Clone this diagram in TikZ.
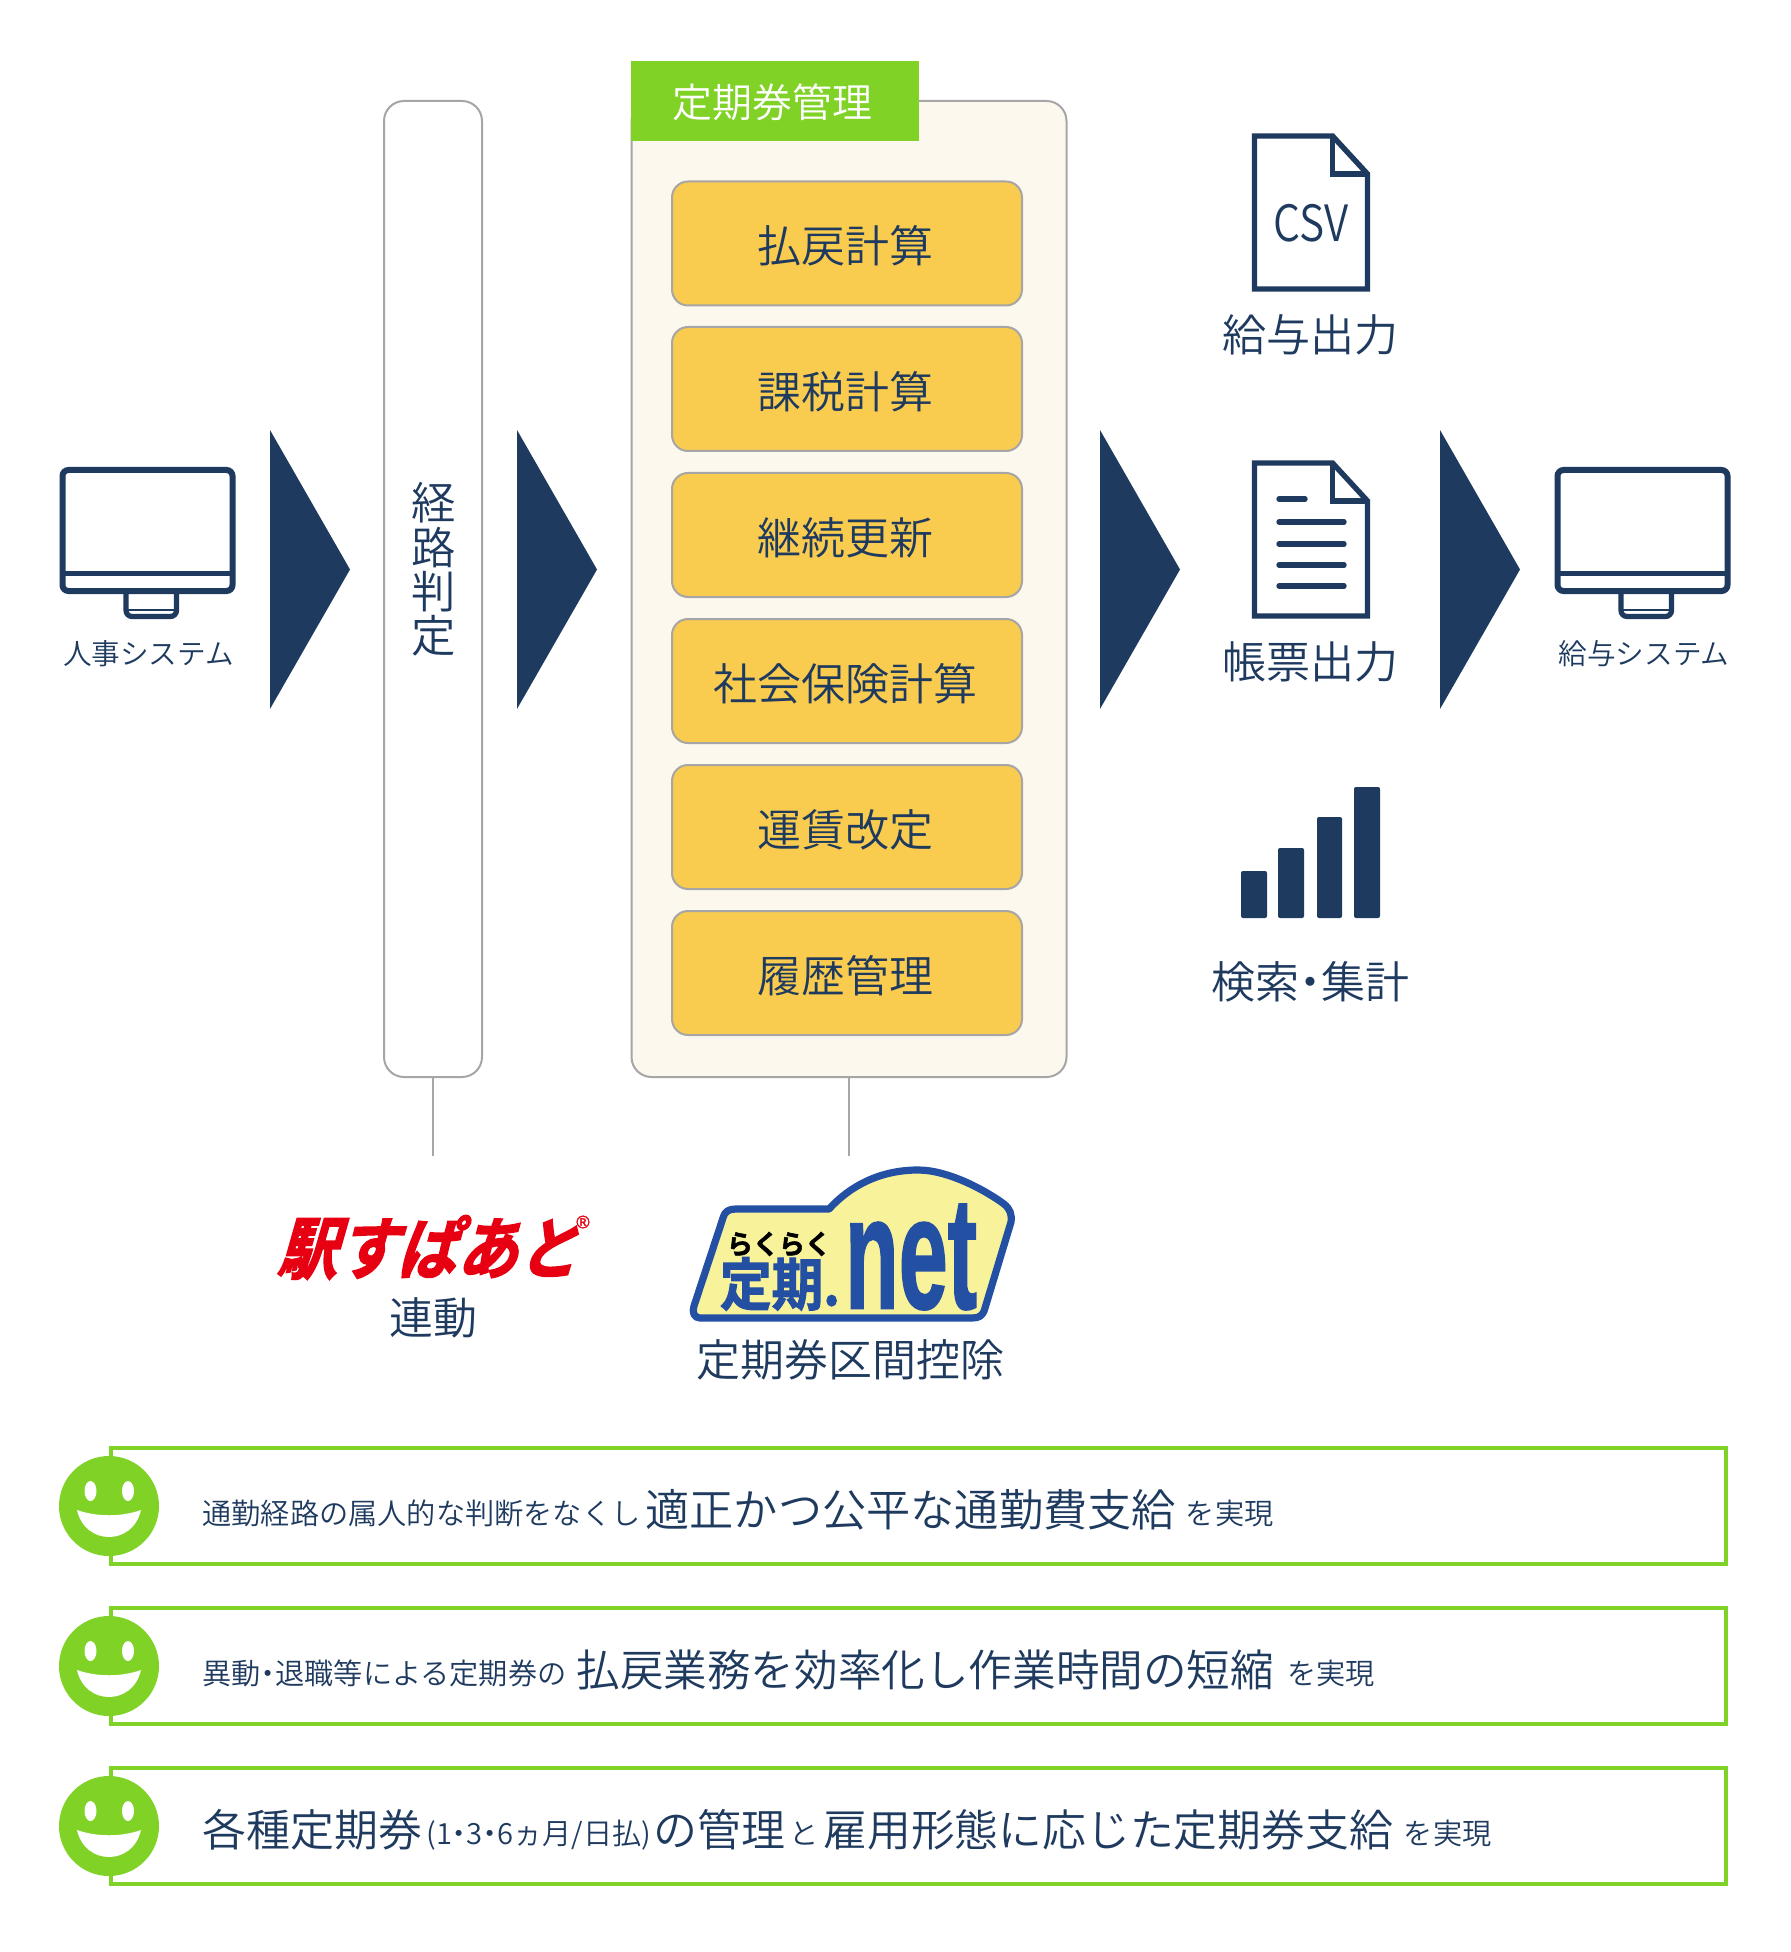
\documentclass[tikz,border=0pt]{standalone}
\usepackage{fontspec}
\newfontfamily\jp{Noto Sans CJK JP DemiLight}
\newfontfamily\jpb[FakeBold=2]{Noto Sans CJK JP Bold}
\newfontfamily\jpslant[FakeSlant=0.32,FakeBold=2.5]{Noto Sans CJK JP Bold}
\newfontfamily\netfont[FakeBold=1.5]{Liberation Sans}
\newcommand\fs[1]{\fontsize{#1}{#1}\selectfont}
\newcommand\rsm[1]{\fs{14.6}\raisebox{.6pt}{#1}}
\newcommand\ndot{\kern-.25em・\kern-.25em}
\definecolor{navy}{HTML}{1E3A5F}
\definecolor{leaf}{HTML}{80D227}
\definecolor{gold}{HTML}{F9CB4E}
\definecolor{cream}{HTML}{FDF8EE}
\definecolor{edge}{HTML}{A6A6A6}
\definecolor{logoblue}{HTML}{2450A4}
\definecolor{logofill}{HTML}{F8F29B}
\definecolor{logored}{HTML}{E60012}
\tikzset{
  txt/.style={text=navy,inner sep=0pt,font=\jp},
  head/.style={txt,font=\jp\fs{22}},
  minitxt/.style={txt,font=\jp\fs{14.3}},
  rowtxt/.style={txt,anchor=base west},
  goldbox/.style={draw=edge,line width=1pt,fill=gold,rounded corners=8pt,minimum width=175pt,minimum height=62pt,inner sep=0pt,text=navy,font=\jp\fs{22},text height=19.4pt,text depth=0.2pt,execute at end node={\kern2pt}},
  rowbox/.style={draw=leaf,line width=2pt,fill=white,minimum width=807.5pt,minimum height=58pt,inner sep=0pt},
  linkline/.style={draw=edge,line width=1pt},
  monitor/.pic={
    \draw[navy,line width=3pt,rounded corners=3pt] (-85,-60.5) rectangle (85,60.5);
    \draw[navy,line width=2.2pt] (-85,43) -- (85,43);
    \draw[navy,line width=2.6pt,rounded corners=3pt] (-21.5,62) -- (-21.5,86) -- (29,86) -- (29,62);
    \draw[navy,line width=1pt] (-21.5,79) -- (29,79);
  },
  chevron/.pic={\fill[navy] (0,0) -- (80,139.5) -- (0,279) -- cycle;},
  smiley/.pic={
    \fill[leaf] (0,0) circle[radius=50];
    \fill[white] (-18.5,-15) ellipse[x radius=6,y radius=10];
    \fill[white] (19,-15) ellipse[x radius=6,y radius=10];
    \fill[white] (-32,4) .. controls (-12,11) and (12,11) .. (32,4) .. controls (28,22) and (14,31) .. (0,31) .. controls (-14,31) and (-28,22) .. (-32,4) -- cycle;
  },
  docsheet/.pic={
    \draw[navy,line width=2.7pt,line join=miter] (0,0) -- (78,0) -- (113,38) -- (113,153) -- (0,153) -- cycle;
    \draw[navy,line width=2.7pt] (78,0) -- (78,38) -- (113,38);
  },
  textline/.style={navy,line width=2.7pt,line cap=round},
  chartbar/.style={fill=navy,rounded corners=1pt},
}
\begin{document}
\begin{tikzpicture}[x=0.5pt,y=-0.5pt]
\useasboundingbox[fill=white] (0,0) rectangle (1790,1952);

% left system
\pic at (147.5,530.5) {monitor};
\node[minitxt] (hr) at (148.5,654) {人事システム};
\pic at (270,430) {chevron};

% route box
\node[draw=edge,line width=1pt,fill=white,rounded corners=10pt,minimum width=49pt,minimum height=488pt,inner sep=0pt] (route) at (433,589) {};
\node[txt,align=center,font=\jp\fs{22.2}] (routetxt) at (433.5,569.5) {経\\路\\判\\定};
\pic at (517,430) {chevron};

% commuter pass box
\node[draw=edge,line width=1pt,fill=cream,rounded corners=10pt,minimum width=217.5pt,minimum height=488pt,inner sep=0pt] (pass) at (849,589) {};
\node[fill=leaf,minimum width=144pt,minimum height=40pt,inner sep=0pt,text=white,font=\jp\fs{20},text height=17.5pt,text depth=0.5pt,execute at end node={\kern3pt}] (passtag) at (775,101) {定期券管理};
\node[goldbox] (g1) at (847,243.5) {払戻計算};
\node[goldbox] (g2) at (847,389) {課税計算};
\node[goldbox] (g3) at (847,535) {継続更新};
\node[goldbox] (g4) at (847,681) {社会保険計算};
\node[goldbox] (g5) at (847,827) {運賃改定};
\node[goldbox] (g6) at (847,973) {履歴管理};

\pic at (1100,430) {chevron};

% outputs
\pic at (1254.5,136) {docsheet};
\node[txt,font=\jp\fs{25}] (csv) at (1311,223) {\scalebox{0.85}[1]{CSV}};
\node[head] (out1) at (1310,335) {給与出力};
\pic at (1254.5,463) {docsheet};
\draw[textline] (1279,499) -- (1305,499);
\draw[textline] (1279,522) -- (1344,522);
\draw[textline] (1279,544) -- (1344,544);
\draw[textline] (1279,565) -- (1344,565);
\draw[textline] (1279,586) -- (1344,586);
\node[head] (out2) at (1310,662) {帳票出力};
\path[chartbar] (1241,871) rectangle (1267,918);
\path[chartbar] (1278,848) rectangle (1304,918);
\path[chartbar] (1317,817) rectangle (1342,918);
\path[chartbar] (1354,787) rectangle (1380,918);
\node[head] (out3) at (1310,982) {検索\ndot 集計};

\pic at (1440,430) {chevron};

% right system
\pic at (1642.5,530.5) {monitor};
\node[minitxt] (pay) at (1644,654) {給与システム};

% links and logos
\coordinate (linka) at (433,1156);
\coordinate (linkb) at (849,1156);
\draw[linkline] (route.south) -- (linka);
\draw[linkline] (pass.south) -- (linkb);

\node[inner sep=0pt,text=logored] (eki) at (427,1247.5) {\resizebox{150pt}{29pt}{\jpslant 駅すぱあと}};
\node[inner sep=0pt,text=logored,font=\netfont\fs{9}] (ekir) at (583,1222) {®};
\node[head] (renk) at (433,1318) {連動};

\path[draw=logoblue,fill=logofill,line width=3.6pt,line join=round]
  (700,1318) .. controls (694,1318) and (692,1312) .. (694,1306)
  -- (723,1218) .. controls (725,1211) and (729,1209) .. (736,1209)
  -- (829,1209) .. controls (850,1186) and (880,1170) .. (918,1170)
  .. controls (948,1170) and (985,1190) .. (1004,1204)
  .. controls (1010,1209) and (1012,1214) .. (1011,1222)
  -- (985,1308) .. controls (983,1316) and (979,1318) .. (972,1318) -- cycle;
\node[inner sep=0pt] (raku) at (779,1244) {\resizebox{52pt}{11pt}{\jpb らくらく}};
\node[inner sep=0pt,text=logoblue] (teiki) at (780,1284) {\resizebox{60pt}{24pt}{\jpb 定期.}};
\node[inner sep=0pt,text=logoblue] (net) at (911,1257) {\resizebox{66pt}{52pt}{\netfont\bfseries net}};
\node[head] (koujo) at (850,1360) {定期券区間控除};

% result rows
\node[rowbox] (r1) at (918.5,1506) {};
\node[rowbox] (r2) at (918.5,1666) {};
\node[rowbox] (r3) at (918.5,1826) {};
\pic at (109,1506) {smiley};
\pic at (109,1666) {smiley};
\pic at (109,1826) {smiley};
\node[rowtxt] (t1) at (202,1526) {\rsm{通勤経路の属人的な判断をなくし}\kern2.5pt\fs{22.1}適正かつ公平な通勤費支給\kern5pt\rsm{を実現}};
\node[rowtxt] (t2) at (202,1686) {\rsm{異動\ndot 退職等による定期券の}\kern5pt\fs{21.8}払戻業務を効率化し作業時間の短縮\kern6.5pt\rsm{を実現}};
\node[rowtxt] (t3) at (202,1846) {\fs{22}各種定期券\kern2pt\rsm{(1\ndot 3\ndot 6ヵ月/日払)}\kern1pt\fs{22}の管理\kern2pt\rsm{と}\kern2.5pt\fs{21.9}雇用形態に応じた定期券支給\kern5.5pt\rsm{を実現}};
\end{tikzpicture}
\end{document}
